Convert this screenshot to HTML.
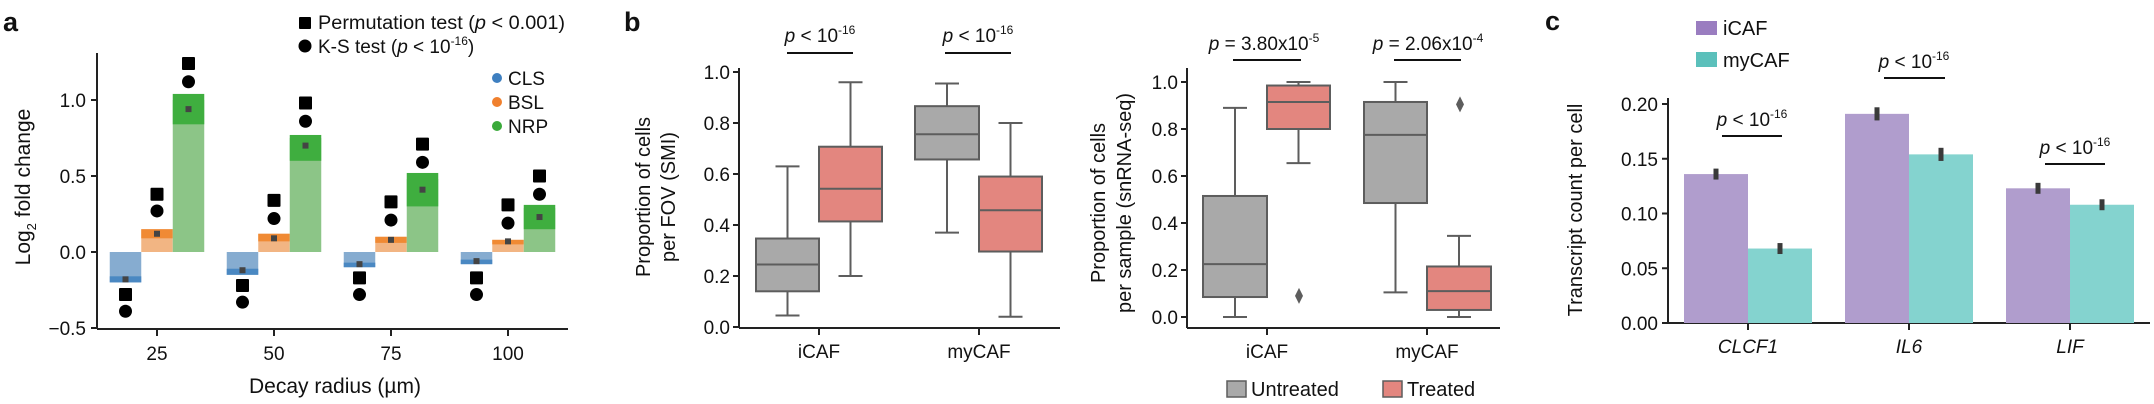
<!DOCTYPE html>
<html><head><meta charset="utf-8"><style>
html,body{margin:0;padding:0;background:#fff;}
svg{display:block;font-family:"Liberation Sans",Arial,sans-serif;}
</style></head><body>
<svg id="s" width="2154" height="404" viewBox="0 0 2154 404" xmlns="http://www.w3.org/2000/svg">
<g id="g"></g>
</svg>
<script>
var o='';
function R(x,y,w,h,f,ex){o+='<rect x="'+x+'" y="'+y+'" width="'+w+'" height="'+h+'" fill="'+f+'" '+(ex||'')+'/>';}
function L(x1,y1,x2,y2,c,w){o+='<line x1="'+x1+'" y1="'+y1+'" x2="'+x2+'" y2="'+y2+'" stroke="'+(c||'#222')+'" stroke-width="'+(w||2)+'"/>';}
function T(x,y,s,sz,anc,ex){o+='<text x="'+x+'" y="'+y+'" font-size="'+(sz||19)+'" text-anchor="'+(anc||'start')+'" fill="#111" '+(ex||'')+'>'+s+'</text>';}
function C(x,y,r,f){o+='<circle cx="'+x+'" cy="'+y+'" r="'+r+'" fill="'+f+'"/>';}
var sup=function(s){return '<tspan dy="-8" font-size="12">'+s+'</tspan>';};
var P='<tspan font-style="italic">p</tspan>';

// ===== Panel a =====
T(3,31,'a',27,'start','font-weight="bold"');
function ya(v){return 252-152*v;}
L(97,53,97,329);L(97,329,568,329);
[[1.0,'1.0'],[0.5,'0.5'],[0,'0.0'],[-0.5,'\u22120.5']].forEach(function(t){var y=ya(t[0]);L(91,y,97,y);T(86,y+7,t[1],19,'end');});
var ticks=[157,274,391,508],lab=['25','50','75','100'];
ticks.forEach(function(x,i){L(x,329,x,336);T(x,360,lab[i],19,'middle');});
T(335,393,'Decay radius (\u00b5m)',21,'middle');
o+='<text transform="translate(30,187) rotate(-90)" font-size="21" text-anchor="middle" fill="#111">Log<tspan dy="6" font-size="13">2</tspan><tspan dy="-6"> fold change</tspan></text>';
var cols=[['#86acd0','#4a88c2'],['#f2b583','#f08a34'],['#8cc587','#3fae3f']];
var data=[
 [[-0.18,-0.16,-0.2,-0.2,-0.28,-0.39],[0.12,0.15,0.09,0.15,0.38,0.27],[0.94,1.04,0.84,1.0,1.24,1.12]],
 [[-0.12,-0.11,-0.15,-0.15,-0.22,-0.33],[0.09,0.12,0.07,0.12,0.34,0.22],[0.70,0.77,0.60,0.75,0.98,0.86]],
 [[-0.08,-0.07,-0.1,-0.1,-0.17,-0.28],[0.08,0.1,0.06,0.1,0.33,0.21],[0.41,0.52,0.30,0.48,0.71,0.59]],
 [[-0.06,-0.05,-0.08,-0.08,-0.17,-0.28],[0.07,0.08,0.05,0.08,0.31,0.19],[0.23,0.31,0.15,0.29,0.50,0.38]]];
data.forEach(function(g,gi){
 g.forEach(function(d,k){
  var cx=ticks[gi]+(k-1)*31.5, x=cx-15.75;
  var y0=ya(0), yb=ya(d[3]);
  R(x,Math.min(y0,yb),31.5,Math.abs(yb-y0),cols[k][0]);
  var t=ya(d[1]),b=ya(d[2]);
  R(x,t,31.5,b-t,cols[k][1]);
  R(cx-3,ya(d[0])-3,6,6,'#444');
  var sy=ya(d[4]),cy=ya(d[5]);
  R(cx-6.5,sy-6.5,13,13,'#000','rx="1"');
  C(cx,cy,6.5,'#000');
 });
});
R(299,17,12,12,'#000','rx="1"');T(318,29,'Permutation test ('+P+' &lt; 0.001)',19,'start','textLength="247" lengthAdjust="spacingAndGlyphs"');
C(305,46,6.5,'#000');T(318,53,'K-S test ('+P+' &lt; 10'+sup('-16')+'<tspan dy="8">)</tspan>',19);
[['CLS','#3e7fc0',78],['BSL','#f0802e',102],['NRP','#3aaa3a',126]].forEach(function(l){C(497,l[2],5,l[1]);T(508,l[2]+7,l[0],19);});

// ===== Panel b left =====
T(624,31,'b',27,'start','font-weight="bold"');
function yb1(v){return 327-255*v;}
L(739,68,739,328);L(739,328,1060,328);
[0,0.2,0.4,0.6,0.8,1.0].forEach(function(v){var y=yb1(v);L(733,y,739,y);T(730,y+7,v.toFixed(1),19,'end');});
o+='<text transform="translate(650,197) rotate(-90)" font-size="20" text-anchor="middle" fill="#111">Proportion of cells</text>';
o+='<text transform="translate(675,197) rotate(-90)" font-size="20" text-anchor="middle" fill="#111">per FOV (SMI)</text>';
var GR='#a9a9a9',RD='#e3867f',ED='#5d5d5d';
function box(x,w,st,yf,col){
 var cx=x+w/2;
 L(cx,yf(st[4]),cx,yf(st[3]),ED,2);L(cx,yf(st[1]),cx,yf(st[0]),ED,2);
 L(cx-12,yf(st[0]),cx+12,yf(st[0]),ED,2);L(cx-12,yf(st[4]),cx+12,yf(st[4]),ED,2);
 R(x,yf(st[3]),w,yf(st[1])-yf(st[3]),col,'stroke="'+ED+'" stroke-width="2"');
 L(x,yf(st[2]),x+w,yf(st[2]),ED,2);
}
box(756,63,[0.045,0.14,0.245,0.347,0.63],yb1,GR);
box(819,63,[0.2,0.414,0.542,0.707,0.96],yb1,RD);
box(915,64,[0.37,0.657,0.756,0.866,0.955],yb1,GR);
box(979,63,[0.04,0.296,0.458,0.59,0.80],yb1,RD);
[819,979].forEach(function(x,i){L(x,328,x,335);T(x,358,['iCAF','myCAF'][i],19,'middle');});
L(787,53,853,53,'#111',2);L(945,53,1011,53,'#111',2);
T(820,42,P+' &lt; 10'+sup('-16'),19,'middle');T(978,42,P+' &lt; 10'+sup('-16'),19,'middle');

// ===== Panel b right =====
function yb2(v){return 317-235*v;}
L(1187,68,1187,328);L(1187,328,1500,328);
[0,0.2,0.4,0.6,0.8,1.0].forEach(function(v){var y=yb2(v);L(1181,y,1187,y);T(1178,y+7,v.toFixed(1),19,'end');});
o+='<text transform="translate(1105,203) rotate(-90)" font-size="20" text-anchor="middle" fill="#111">Proportion of cells</text>';
o+='<text transform="translate(1131,203) rotate(-90)" font-size="20" text-anchor="middle" fill="#111">per sample (snRNA-seq)</text>';
box(1203,64,[0,0.085,0.225,0.515,0.89],yb2,GR);
box(1267,63,[0.655,0.80,0.915,0.985,1.0],yb2,RD);
box(1364,63,[0.105,0.485,0.775,0.915,1.0],yb2,GR);
box(1427,64,[0,0.03,0.11,0.215,0.345],yb2,RD);
function dia(x,y){o+='<polygon points="'+x+','+(y-8)+' '+(x+4)+','+y+' '+x+','+(y+8)+' '+(x-4)+','+y+'" fill="'+ED+'"/>';}
dia(1299,yb2(0.09));dia(1460,yb2(0.905));
[1267,1427].forEach(function(x,i){L(x,328,x,335);T(x,358,['iCAF','myCAF'][i],19,'middle');});
L(1233,60,1301,60,'#111',2);L(1394,60,1461,60,'#111',2);
T(1264,50,P+' = 3.80x10'+sup('-5'),19,'middle');T(1428,50,P+' = 2.06x10'+sup('-4'),19,'middle');
R(1227,381,19,16,GR,'stroke="'+ED+'" stroke-width="1.5"');T(1251,396,'Untreated',20);
R(1383,381,19,16,RD,'stroke="'+ED+'" stroke-width="1.5"');T(1407,396,'Treated',20);

// ===== Panel c =====
T(1545,30,'c',27,'start','font-weight="bold"');
function yc(v){return 323-1095*v;}
L(1668,98,1668,323);L(1668,323,2150,323);
[0,0.05,0.1,0.15,0.2].forEach(function(v){var y=yc(v);L(1662,y,1668,y);T(1658,y+7,v.toFixed(2),19,'end');});
o+='<text transform="translate(1582,210) rotate(-90)" font-size="20" text-anchor="middle" fill="#111">Transcript count per cell</text>';
var PU='#b09dcd',TE='#84d3cf';
var cv=[[0.136,0.068],[0.191,0.154],[0.123,0.108]],cx0=[1748,1909,2070],nm=['CLCF1','IL6','LIF'];
cv.forEach(function(v,i){
 var c=cx0[i];
 R(c-64,yc(v[0]),64,323-yc(v[0]),PU);R(c,yc(v[1]),64,323-yc(v[1]),TE);
 [[c-32,v[0]],[c+32,v[1]]].forEach(function(e){var h=v[0]>0.18?0.006:0.005;R(e[0]-2.5,yc(e[1]+h),5,yc(e[1]-h)-yc(e[1]+h),'#3a3a3a');});
 L(c,323,c,330);T(c,353,nm[i],19,'middle','font-style="italic"');
});
L(1722,136,1782,136,'#111',2);L(1884,78,1945,78,'#111',2);L(2045,164,2105,164,'#111',2);
T(1752,126,P+' &lt; 10'+sup('-16'),19,'middle');T(1914,68,P+' &lt; 10'+sup('-16'),19,'middle');T(2075,154,P+' &lt; 10'+sup('-16'),19,'middle');
R(1696,21,21,14,'#9a7dc0');T(1723,35,'iCAF',20);
R(1696,52,21,15,'#5bc0bb');T(1723,67,'myCAF',20);
document.getElementById('g').innerHTML=o;
</script>
</body></html>
